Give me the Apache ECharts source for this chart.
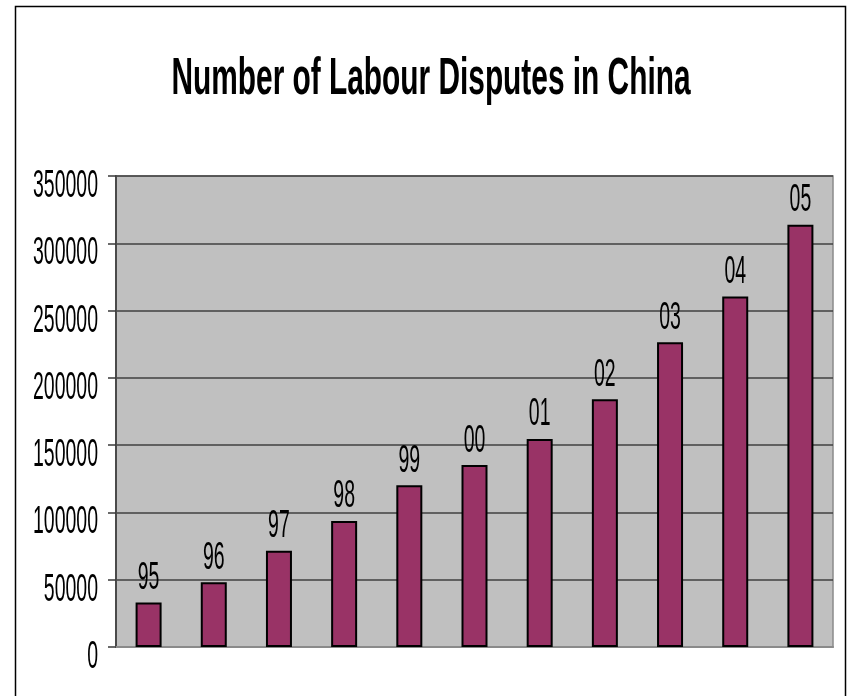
<!DOCTYPE html>
<html>
<head>
<meta charset="utf-8">
<script src="https://cdn.jsdelivr.net/npm/echarts@6/dist/echarts.min.js"></script>
<style>
  html, body { margin: 0; padding: 0; background: #ffffff; }
  #chart { width: 848px; height: 696px; }
</style>
</head>
<body>
<div id="chart"></div>
<script>
const titleText = 'Number of Labour Disputes in China';
const categories = ['95', '96', '97', '98', '99', '00', '01', '02', '03', '04', '05'];
const disputes = [33030, 48121, 71524, 93649, 120191, 135206, 154621, 184116, 226391, 260471, 313773];
const yTicks = [0, 50000, 100000, 150000, 200000, 250000, 300000, 350000];
const yTickLabels = ['0', '50000', '100000', '150000', '200000', '250000', '300000', '350000'];

const FONT = '"Liberation Sans", Arial, sans-serif';
const measureCtx = document.createElement('canvas').getContext('2d');
function textWidth(text, size, weight) {
  measureCtx.font = (weight || 'normal') + ' ' + size + 'px ' + FONT;
  return measureCtx.measureText(text).width;
}
const NUM_SIZE = 38;
const digitScale = 65 / textWidth('350000', NUM_SIZE);
const TITLE_SIZE = 52;
const titleScale = 519 / textWidth(titleText, TITLE_SIZE, 'bold');

const chart = echarts.init(document.getElementById('chart'), null, { renderer: 'canvas' });

const option = {
  backgroundColor: '#ffffff',
  animation: false,
  graphic: [
    {
      type: 'rect',
      shape: { x: 15.5, y: 6.5, width: 830, height: 720 },
      style: { fill: 'none', stroke: '#000000', lineWidth: 1.5 },
      silent: true
    },
    {
      type: 'text',
      x: 431,
      y: 80,
      scaleX: titleScale,
      style: {
        text: titleText,
        fontSize: TITLE_SIZE,
        fontWeight: 'bold',
        fontFamily: FONT,
        fill: '#000000',
        align: 'center',
        verticalAlign: 'middle'
      },
      silent: true
    }
  ],
  grid: {
    left: 116,
    top: 176,
    right: 15,
    bottom: 49,
    show: true,
    backgroundColor: '#c0c0c0',
    borderColor: '#8a8a8a',
    borderWidth: 1.5
  },
  xAxis: {
    type: 'category',
    data: categories,
    axisLine: { show: true, lineStyle: { color: '#8a8a8a', width: 2 } },
    axisTick: { show: false },
    axisLabel: { show: false },
    splitLine: { show: false }
  },
  yAxis: {
    type: 'value',
    min: 0,
    max: 350000,
    interval: 50000,
    axisLine: { show: true, lineStyle: { color: '#4a4a4a', width: 2 } },
    axisTick: { show: true, length: 8, lineStyle: { color: '#3a3a3a', width: 1.5 } },
    axisLabel: { show: false },
    splitLine: { show: true, lineStyle: { color: '#404040', width: 1.5 } }
  },
  series: [
    {
      type: 'bar',
      data: disputes,
      barWidth: 26,
      itemStyle: { color: '#993366', borderColor: '#000000', borderWidth: 2 },
      silent: true
    },
    {
      type: 'custom',
      silent: true,
      clip: false,
      data: categories.map((c, i) => [i, disputes[i]]),
      renderItem: function (params, api) {
        const pt = api.coord([api.value(0), api.value(1)]);
        return {
          type: 'text',
          x: pt[0],
          y: pt[1] - 24,
          scaleX: digitScale,
          style: {
            text: categories[params.dataIndex],
            fontSize: NUM_SIZE,
            fontFamily: FONT,
            fill: '#000000',
            align: 'center',
            verticalAlign: 'middle'
          }
        };
      }
    },
    {
      type: 'custom',
      silent: true,
      clip: false,
      data: yTicks.map((t) => [0, t]),
      renderItem: function (params, api) {
        const pt = api.coord([0, api.value(1)]);
        const band = api.size([1, 0])[0];
        return {
          type: 'text',
          x: pt[0] - band / 2 - 18,
          y: pt[1] + 10.5,
          scaleX: digitScale,
          style: {
            text: yTickLabels[params.dataIndex],
            fontSize: NUM_SIZE,
            fontFamily: FONT,
            fill: '#000000',
            align: 'right',
            verticalAlign: 'middle'
          }
        };
      }
    }
  ]
};
chart.setOption(option);
</script>
</body>
</html>
